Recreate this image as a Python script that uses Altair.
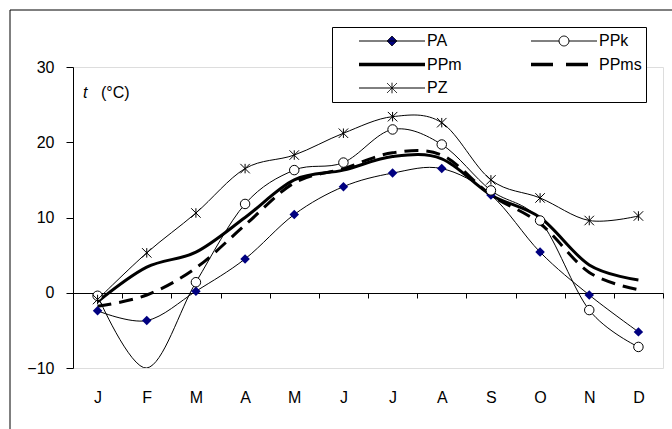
import altair as alt
import pandas as pd

MONTHS = ["Jan", "Feb", "Mar", "Apr", "May", "Jun", "Jul", "Aug", "Sep", "Oct", "Nov", "Dec"]
SERIES = ["PA", "PPk", "PPm", "PPms", "PZ"]
# legend reading order (Vega fills legend columns top to bottom)
LEGEND_ORDER = ["PA", "PPm", "PZ", "PPk", "PPms"]

PA = [-2.4, -3.7, 0.2, 4.5, 10.4, 14.1, 15.9, 16.5, 13.0, 5.4, -0.3, -5.2]
PPK = [-0.4, -10.0, 1.4, 11.8, 16.3, 17.3, 21.7, 19.7, 13.6, 9.6, -2.3, -7.2]
PPM = [-1.2, 3.4, 5.4, 10.0, 15.0, 16.3, 18.1, 17.8, 13.0, 10.0, 3.7, 1.7]
PPMS = [-1.8, -0.3, 3.3, 9.0, 14.6, 16.5, 18.6, 18.3, 13.0, 9.2, 2.7, 0.4]
PZ = [-0.9, 5.3, 10.6, 16.5, 18.3, 21.2, 23.4, 22.6, 15.0, 12.6, 9.6, 10.2]

Y_TICKS = [-10, 0, 10, 20, 30]

rows = []
for name, vals in zip(SERIES, [PA, PPK, PPM, PPMS, PZ]):
    for m, v in zip(MONTHS, vals):
        rows.append({"month": m, "series": name, "t": v})
df = pd.DataFrame(rows)

FONT = "Liberation Sans"
FS = 16
ASTERISK = "M-1,-1L1,1M-1,1L1,-1M0,-1L0,1"

x = alt.X(
    "month:N", sort=MONTHS, bandPosition=0.5,
    scale=alt.Scale(type="band", domain=MONTHS, paddingInner=0, paddingOuter=0),
    axis=alt.Axis(title=None, labelExpr="slice(datum.label,0,1)", tickBand="extent",
                  offset=-75, labelPadding=91, tickSize=5, domainColor="black",
                  tickColor="black", labelFontSize=FS, labelColor="black",
                  labelFont=FONT, grid=False, labelAngle=0),
)
y = alt.Y(
    "t:Q", scale=alt.Scale(domain=[-10, 30], nice=False, zero=False),
    axis=alt.Axis(title=None, values=Y_TICKS, tickSize=7, labelPadding=12,
                  domainColor="black", tickColor="black", labelFontSize=FS,
                  labelColor="black", labelFont=FONT, grid=False),
)

base = alt.Chart(df)


def line(name, **kw):
    return base.transform_filter(alt.datum.series == name).mark_line(
        interpolate="cardinal", color="black", clip=True, **kw
    ).encode(x=x, y=y)


def points(name, **kw):
    return base.transform_filter(
        f"datum.series == '{name}' && datum.t > -10"
    ).mark_point(opacity=1, **kw).encode(x=x, y=y)


l_ppm = line("PPm", strokeWidth=3)
l_ppms = line("PPms", strokeWidth=3, strokeDash=[14, 8])
l_pz = line("PZ", strokeWidth=1)
l_ppk = line("PPk", strokeWidth=1)
l_pa = line("PA", strokeWidth=1)

p_pa = points("PA", shape="diamond", filled=True, color="#000080", size=90)
p_ppk = points("PPk", shape="circle", filled=True, fill="white", stroke="black",
               strokeWidth=1, size=90)
p_pz = points("PZ", shape=ASTERISK, filled=False, color="black", strokeWidth=1, size=90)

# legend symbol styles, in LEGEND_ORDER
LEG_SHAPES = [
    "M-1,0H1M-0.15,0L0,-0.15L0.15,0L0,0.15Z",
    "M-1,0H1",
    "M-1,0H1M-0.15,-0.15L0.15,0.15M-0.15,0.15L0.15,-0.15M0,-0.16L0,0.16",
    "M-1,0H-0.15M0.15,0H1M-0.15,0A0.15,0.15 0 1,0 0.15,0A0.15,0.15 0 1,0 -0.15,0",
    "M-1,0H1",
]
LEG_FILL = ["#000080", "transparent", "transparent", "white", "transparent"]
LEG_WIDTH = [1, 3.5, 1, 1, 3.5]
LEG_DASH = [[1, 0], [1, 0], [1, 0], [1, 0], [22, 13]]

leg = alt.Legend(
    title=None, orient="none", legendX=259, legendY=-40, columns=2,
    symbolSize=4356, clipHeight=20, rowPadding=3.5, columnPadding=46,
    symbolOffset=21, labelOffset=0, padding=4, strokeColor="black",
    fillColor="white", labelFont=FONT, labelFontSize=FS, labelColor="black",
    labelExpr="datum.label == 'PPk' ? 'PPk     ' : datum.label",
)

legend_layer = base.transform_filter("datum.t > 1000").mark_point(
    size=4356, opacity=1
).encode(
    x=x, y=y,
    shape=alt.Shape("series:N", scale=alt.Scale(domain=LEGEND_ORDER, range=LEG_SHAPES), legend=leg),
    fill=alt.Fill("series:N", scale=alt.Scale(domain=LEGEND_ORDER, range=LEG_FILL), legend=leg),
    stroke=alt.Stroke("series:N", scale=alt.Scale(domain=LEGEND_ORDER, range=["black"] * 5), legend=leg),
    strokeWidth=alt.StrokeWidth("series:N", scale=alt.Scale(type="ordinal", domain=LEGEND_ORDER, range=LEG_WIDTH), legend=leg),
    strokeDash=alt.StrokeDash("series:N", scale=alt.Scale(domain=LEGEND_ORDER, range=LEG_DASH), legend=leg),
)

one = alt.Chart(pd.DataFrame({"a": [0]}))
frame = one.mark_rect(fillOpacity=0, stroke="black", strokeWidth=1).encode(
    x=alt.value(-63), x2=alt.value(610), y=alt.value(-57), y2=alt.value(370)
)
t_label = one.mark_text(text="t", fontStyle="italic", align="left", baseline="middle",
                        fontSize=FS, font=FONT, color="black").encode(
    x=alt.value(10), y=alt.value(26))
unit_label = one.mark_text(text="(°C)", align="left", baseline="middle",
                           fontSize=FS, font=FONT, color="black").encode(
    x=alt.value(28), y=alt.value(26))

chart = alt.layer(
    frame, l_ppm, l_ppms, l_pz, l_ppk, l_pa, p_pa, p_ppk, p_pz, legend_layer, t_label, unit_label
).properties(
    width=590, height=301,
    autosize=alt.AutoSizeParams(type="none"),
    padding={"left": 73, "top": 67, "right": 9, "bottom": 61},
).configure_view(stroke="#999999", strokeWidth=1).configure(background="white")

chart.save("out.html", embed_options={"renderer": "svg", "actions": False})
